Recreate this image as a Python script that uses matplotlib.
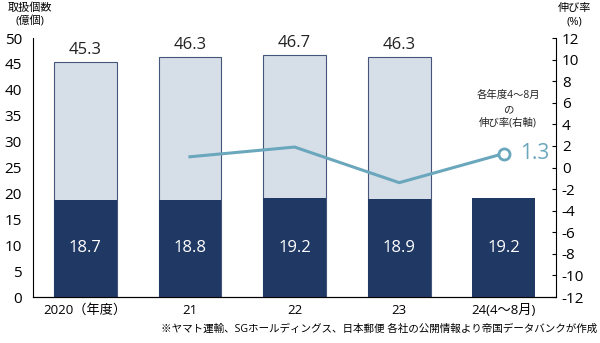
import numpy as np
import matplotlib.pyplot as plt

plt.rcParams['font.family'] = ['Open Sans', 'Noto Sans CJK JP', 'DejaVu Sans']
plt.rcParams['axes.unicode_minus'] = False

# データ
years = ['2020（年度）', '21', '22', '23', '24(4～8月)']
total = [45.3, 46.3, 46.7, 46.3, None]
apr_aug = [18.7, 18.8, 19.2, 18.9, 19.2]
growth = [None, 1.0, 1.9, -1.4, 1.3]

navy = '#1F3864'
light = '#D6DEE8'
teal = '#6AA7BD'

fig = plt.figure(figsize=(6, 3.43), dpi=100)
ax = fig.add_axes([0.055, 0.134, 0.872, 0.755])
x = np.arange(len(years))

tot_vals = [t if t is not None else 0 for t in total]
ax.bar(x[:4], tot_vals[:4], width=0.6, color=light, edgecolor='#46557A', linewidth=0.8, zorder=2)
ax.bar(x, apr_aug, width=0.6, color=navy, zorder=3)

for i, t in enumerate(total):
    if t is not None:
        ax.text(x[i], t + 0.8, f'{t}', ha='center', va='bottom', fontsize=12, color='#222222')
for i, v in enumerate(apr_aug):
    ax.text(x[i], 9.5, f'{v}', ha='center', va='center', fontsize=12, color='white', zorder=4)

ax.set_ylim(0, 50)
ax.set_yticks(range(0, 51, 5))
ax.set_xlim(-0.5, 4.5)
ax.set_xticks(x)
ax.set_xticklabels(years, fontsize=9.5)
ax.tick_params(axis='x', length=0, pad=5)
ax.tick_params(axis='y', length=0, labelsize=11, pad=8)
ax.spines['top'].set_visible(False)
ax.spines['right'].set_visible(False)

ax2 = ax.twinx()
gx = [x[i] for i, g in enumerate(growth) if g is not None]
gy = [g for g in growth if g is not None]
ax2.plot(gx, gy, color=teal, linewidth=2.2, zorder=5)
ax2.plot(gx[-1], gy[-1], 'o', markersize=8, markerfacecolor='white',
         markeredgecolor=teal, markeredgewidth=2, zorder=6)
ax2.text(gx[-1] + 0.15, gy[-1], f'{gy[-1]}', color=teal, fontsize=15, va='center', ha='left')
ax2.text(4.04, 5.4, '各年度4～8月\nの\n伸び率(右軸)', ha='center', va='center',
         fontsize=7.5, linespacing=1.3, color='#222222')
ax2.set_ylim(-12, 12)
ax2.set_yticks(range(-12, 13, 2))
ax2.tick_params(axis='y', direction='in', length=3, labelsize=11, pad=4)
ax2.spines['top'].set_visible(False)
ax2.spines['left'].set_visible(False)

fig.text(0.05, 0.955, '取扱個数\n(億個)', ha='center', va='center', fontsize=8, linespacing=1.3)
fig.text(0.958, 0.955, '伸び率\n(%)', ha='center', va='center', fontsize=8, linespacing=1.3)
fig.text(0.995, 0.04, '※ヤマト運輸、SGホールディングス、日本郵便 各社の公開情報より帝国データバンクが作成',
         ha='right', va='center', fontsize=7.6)

fig.savefig('out.png', dpi=100)
